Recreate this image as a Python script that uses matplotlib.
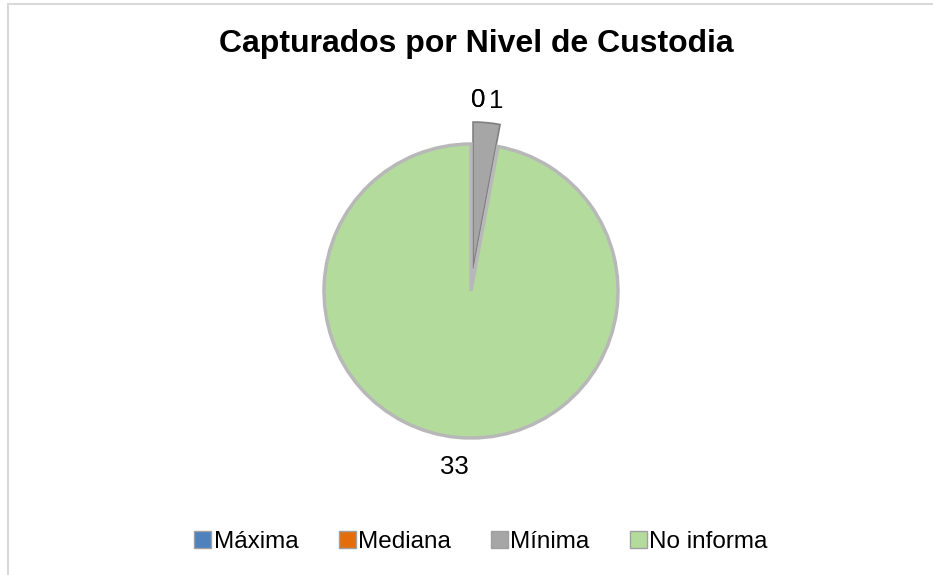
import numpy as np
import matplotlib.pyplot as plt
from matplotlib.patches import Rectangle

plt.rcParams['font.family'] = ['Liberation Sans', 'DejaVu Sans']

# Data
categories = ["Máxima", "Mediana", "Mínima", "No informa"]
values = [0, 0, 1, 33]
colors = ["#4F81BD", "#E46C0A", "#A6A6A6", "#B3DC9C"]
explode = [0, 0, 0.15, 0]

fig = plt.figure(figsize=(9.33, 5.75), dpi=100)

# chart area border (left and top only visible)
fig.add_artist(Rectangle((8 / 933, -0.1), 1.5, 1.1 - 3.5 / 575, fill=False,
                         edgecolor="#D9D9D9", linewidth=1.5,
                         transform=fig.transFigure, clip_on=False))

# pie axes: 1 unit = 147 px, centre at (471, 291)
R = 147
half = 1.25 * R
ax = fig.add_axes([(471 - half) / 933, (575 - 291 - half) / 575,
                   2 * half / 933, 2 * half / 575])
wedges, _ = ax.pie(values, colors=colors, explode=explode, startangle=90,
                   counterclock=False,
                   wedgeprops=dict(edgecolor="#B8B8B8", linewidth=2.5))
wedges[2].set_edgecolor("#7F7F7F")
wedges[2].set_linewidth(1.2)
ax.set_xlim(-1.25, 1.25)
ax.set_ylim(-1.25, 1.25)
ax.set_aspect("equal")
ax.axis("off")

# data labels
label_r = [1.30, 1.30, 1.30, 1.20]
label_ha = ["left", "left", "left", "center"]
for w, v, r, ha in zip(wedges, values, label_r, label_ha):
    ang = np.deg2rad((w.theta1 + w.theta2) / 2)
    ax.text(r * np.cos(ang), r * np.sin(ang), str(v), ha=ha, va="center",
            fontsize=18.5, color="#000000")

fig.text(476 / 933, 1 - 44 / 575, "Capturados por Nivel de Custodia",
         ha="center", va="center", fontsize=23, fontweight="bold")

leg = fig.legend(wedges, categories, loc="center", ncol=4, frameon=False,
                 bbox_to_anchor=(481 / 933, 1 - 542 / 575), fontsize=17.5,
                 handlelength=0.7, handleheight=0.7, handletextpad=0.1,
                 columnspacing=1.65)
for h in leg.legend_handles:
    h.set_edgecolor("#A0A0A0")
    h.set_linewidth(1.0)

fig.savefig("out.png", dpi=100, facecolor="white")
